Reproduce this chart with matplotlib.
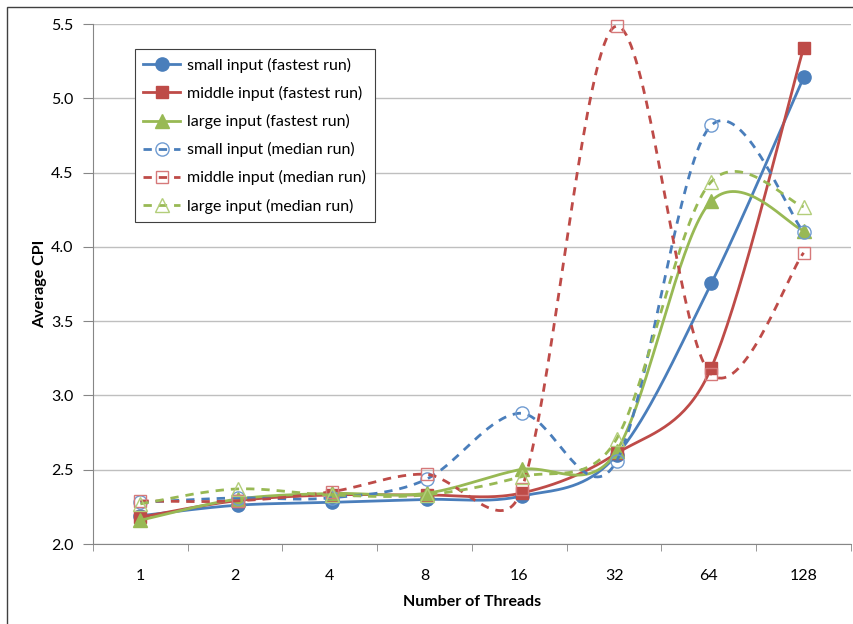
import matplotlib.pyplot as plt
import numpy as np
from matplotlib.patches import Rectangle

plt.rcParams['font.family'] = ['Lato', 'DejaVu Sans']

threads = ['1', '2', '4', '8', '16', '32', '64', '128']

small_fast = [2.19, 2.26, 2.28, 2.30, 2.32, 2.58, 3.72, 5.14]
middle_fast = [2.18, 2.29, 2.33, 2.33, 2.34, 2.60, 3.15, 5.34]
large_fast = [2.16, 2.30, 2.34, 2.34, 2.50, 2.60, 4.29, 4.11]
small_med = [2.28, 2.31, 2.31, 2.43, 2.88, 2.53, 4.80, 4.10]
middle_med = [2.29, 2.29, 2.35, 2.47, 2.33, 5.48, 3.16, 3.96]
large_med = [2.27, 2.37, 2.33, 2.33, 2.45, 2.68, 4.42, 4.27]

# pixel size of one category / one y unit, used for excel-like smoothing
SX = 94.6
SY = 148.6


def excel_smooth(vals, n=40):
    # bezier smoothing done in screen space like excel does
    P = np.column_stack([np.arange(len(vals)) * SX, np.array(vals) * SY])
    xs, ys = [], []
    idx = []
    for i in range(len(P) - 1):
        p0 = P[i - 1] if i > 0 else P[i]
        p1 = P[i]
        p2 = P[i + 1]
        p3 = P[i + 2] if i + 2 < len(P) else P[i + 1]
        d02 = np.hypot(*(p2 - p0))
        d12 = np.hypot(*(p2 - p1))
        d13 = np.hypot(*(p3 - p1))
        f1 = 1 / 6 if (d02 / 6 < d12 / 2 or d02 == 0) else d12 / (2 * d02)
        f2 = 1 / 6 if (d13 / 6 < d12 / 2 or d13 == 0) else d12 / (2 * d13)
        c1 = p1 + f1 * (p2 - p0)
        c2 = p2 - f2 * (p3 - p1)
        t = np.linspace(0, 1, n)[:, None]
        if i > 0:
            t = t[1:]
        b = (1 - t) ** 3 * p1 + 3 * (1 - t) ** 2 * t * c1 + 3 * (1 - t) * t ** 2 * c2 + t ** 3 * p2
        idx.append(len(xs))
        xs.extend(b[:, 0] / SX)
        ys.extend(b[:, 1] / SY)
    idx.append(len(xs) - 1)
    return np.array(xs), np.array(ys), idx


fig = plt.figure(figsize=(8.54, 6.24), dpi=100)
ax = fig.add_axes([93 / 854, 1 - 544 / 624, 758 / 854, 520 / 624])

blue = '#4A7EBB'
red = '#BE4B48'
green = '#98B954'
blue_l = '#6F9BD1'
red_l = '#D6797A'
green_l = '#B3CE7A'

series = [
    (small_fast, 'small input (fastest run)', blue, '-', 'o', blue, blue, 9.5),
    (middle_fast, 'middle input (fastest run)', red, '-', 's', red, red, 9),
    (large_fast, 'large input (fastest run)', green, '-', '^', green, green, 10),
    (small_med, 'small input (median run)', blue, '--', 'o', 'none', blue_l, 9.5),
    (middle_med, 'middle input (median run)', red, '--', 's', 'none', red_l, 9),
    (large_med, 'large input (median run)', green, '--', '^', 'none', green_l, 10),
]

for vals, lab, col, ls, mk, mfc, mec, ms in series:
    xs, ys, idx = excel_smooth(vals)
    line, = ax.plot(xs, ys, color=col, lw=2.0, ls=ls, marker=mk, markevery=idx,
                    markerfacecolor=mfc, markeredgecolor=mec, markersize=ms,
                    markeredgewidth=1.0, label=lab, clip_on=False)
    if ls == '--':
        line.set_dashes((3, 2.5))

ax.set_xlim(-0.5, 7.5)
ax.set_ylim(2.0, 5.5)
ax.set_yticks(np.arange(2.0, 5.51, 0.5))
ax.set_yticklabels(['%.1f' % v for v in np.arange(2.0, 5.51, 0.5)], fontsize=11.5)
ax.set_xticks(range(len(threads)))
ax.set_xticklabels(threads, fontsize=11.5)
ax.set_xticks(np.arange(-0.5, 7.6, 1), minor=True)
ax.tick_params(axis='x', which='major', length=0, pad=18)
ax.tick_params(axis='x', which='minor', length=5, color='#868686', direction='out')
ax.tick_params(axis='y', length=7, color='#868686', direction='out', pad=7)

ax.grid(axis='y', color='#BFBFBF', lw=1)
ax.set_axisbelow(True)
for s in ['top', 'right']:
    ax.spines[s].set_visible(False)
for s in ['left', 'bottom']:
    ax.spines[s].set_color('#868686')

ax.set_ylabel('Average CPI', fontsize=11.5, fontweight='bold', labelpad=3)
ax.set_xlabel('Number of Threads', fontsize=11.5, fontweight='bold', labelpad=9)

leg = ax.legend(loc='upper left', bbox_to_anchor=(0.055, 0.952), fontsize=11.5,
                frameon=True, fancybox=False, edgecolor='#404040', framealpha=1,
                handlelength=2.3, borderpad=0.55, labelspacing=0.82, handletextpad=0.45,
                borderaxespad=0)
leg.get_frame().set_linewidth(0.8)

# outer chart border
fig.patches.append(Rectangle((7 / 854, -0.05), 1.1, 1 - 7 / 624 + 0.05,
                             transform=fig.transFigure, fill=False,
                             edgecolor='#404040', lw=1))

fig.savefig('out.png', dpi=100)
